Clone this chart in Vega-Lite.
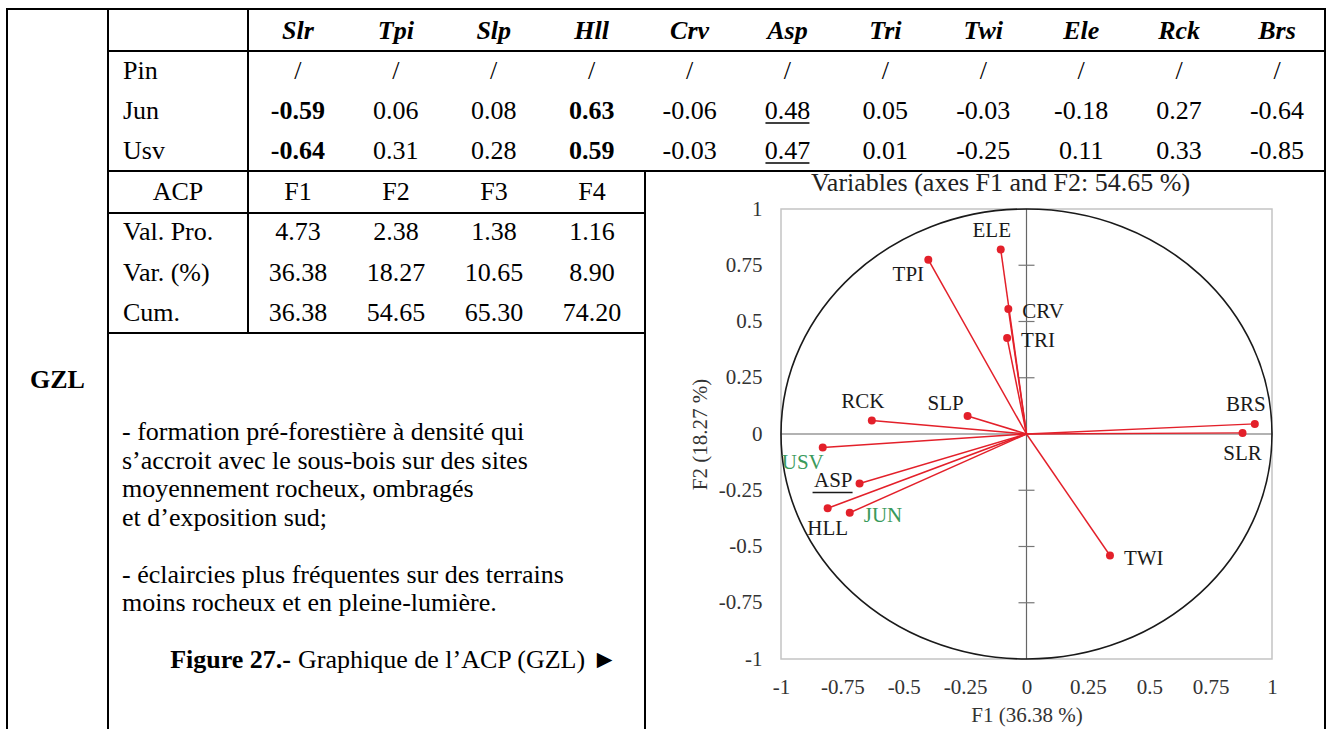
{
  "$schema": "https://vega.github.io/schema/vega-lite/v6.json",
  "width": 1328,
  "height": 729,
  "autosize": {"type": "none"},
  "padding": 0,
  "background": "white",
  "config": {
    "view": {"stroke": null},
    "locale": {"number": {"decimal": ".", "thousands": ",", "grouping": [3], "currency": ["", ""], "minus": "-"}},
    "text": {"font": "Liberation Serif", "color": "#000"}
  },
  "datasets": {
    "borders": [
      {"fromCol": 0, "toCol": 13, "fromRow": 0, "toRow": 0},
      {"fromCol": 0, "toCol": 0, "fromRow": 0, "toRow": 5},
      {"fromCol": 1, "toCol": 1, "fromRow": 0, "toRow": 5},
      {"fromCol": 2, "toCol": 2, "fromRow": 0, "toRow": 4},
      {"fromCol": 13, "toCol": 13, "fromRow": 0, "toRow": 5},
      {"fromCol": 6, "toCol": 6, "fromRow": 2, "toRow": 5},
      {"fromCol": 1, "toCol": 13, "fromRow": 1, "toRow": 1},
      {"fromCol": 1, "toCol": 13, "fromRow": 2, "toRow": 2},
      {"fromCol": 1, "toCol": 6, "fromRow": 3, "toRow": 3},
      {"fromCol": 1, "toCol": 6, "fromRow": 4, "toRow": 4}
    ],
    "vars": [
      {"var": "Slr"}, {"var": "Tpi"}, {"var": "Slp"}, {"var": "Hll"}, {"var": "Crv"}, {"var": "Asp"},
      {"var": "Tri"}, {"var": "Twi"}, {"var": "Ele"}, {"var": "Rck"}, {"var": "Brs"}
    ],
    "species": [{"species": "Pin"}, {"species": "Jun"}, {"species": "Usv"}],
    "corr": [
      {"species": "Pin", "var": "Slr", "r": null, "sig": "none"},
      {"species": "Pin", "var": "Tpi", "r": null, "sig": "none"},
      {"species": "Pin", "var": "Slp", "r": null, "sig": "none"},
      {"species": "Pin", "var": "Hll", "r": null, "sig": "none"},
      {"species": "Pin", "var": "Crv", "r": null, "sig": "none"},
      {"species": "Pin", "var": "Asp", "r": null, "sig": "none"},
      {"species": "Pin", "var": "Tri", "r": null, "sig": "none"},
      {"species": "Pin", "var": "Twi", "r": null, "sig": "none"},
      {"species": "Pin", "var": "Ele", "r": null, "sig": "none"},
      {"species": "Pin", "var": "Rck", "r": null, "sig": "none"},
      {"species": "Pin", "var": "Brs", "r": null, "sig": "none"},
      {"species": "Jun", "var": "Slr", "r": -0.59, "sig": "strong"},
      {"species": "Jun", "var": "Tpi", "r": 0.06, "sig": "none"},
      {"species": "Jun", "var": "Slp", "r": 0.08, "sig": "none"},
      {"species": "Jun", "var": "Hll", "r": 0.63, "sig": "strong"},
      {"species": "Jun", "var": "Crv", "r": -0.06, "sig": "none"},
      {"species": "Jun", "var": "Asp", "r": 0.48, "sig": "moderate"},
      {"species": "Jun", "var": "Tri", "r": 0.05, "sig": "none"},
      {"species": "Jun", "var": "Twi", "r": -0.03, "sig": "none"},
      {"species": "Jun", "var": "Ele", "r": -0.18, "sig": "none"},
      {"species": "Jun", "var": "Rck", "r": 0.27, "sig": "none"},
      {"species": "Jun", "var": "Brs", "r": -0.64, "sig": "none"},
      {"species": "Usv", "var": "Slr", "r": -0.64, "sig": "strong"},
      {"species": "Usv", "var": "Tpi", "r": 0.31, "sig": "none"},
      {"species": "Usv", "var": "Slp", "r": 0.28, "sig": "none"},
      {"species": "Usv", "var": "Hll", "r": 0.59, "sig": "strong"},
      {"species": "Usv", "var": "Crv", "r": -0.03, "sig": "none"},
      {"species": "Usv", "var": "Asp", "r": 0.47, "sig": "moderate"},
      {"species": "Usv", "var": "Tri", "r": 0.01, "sig": "none"},
      {"species": "Usv", "var": "Twi", "r": -0.25, "sig": "none"},
      {"species": "Usv", "var": "Ele", "r": 0.11, "sig": "none"},
      {"species": "Usv", "var": "Rck", "r": 0.33, "sig": "none"},
      {"species": "Usv", "var": "Brs", "r": -0.85, "sig": "none"}
    ],
    "axes": [{"axis": "F1"}, {"axis": "F2"}, {"axis": "F3"}, {"axis": "F4"}],
    "stats": [{"stat": "Val. Pro."}, {"stat": "Var. (%)"}, {"stat": "Cum."}],
    "acp": [
      {"stat": "Val. Pro.", "axis": "F1", "value": 4.73},
      {"stat": "Val. Pro.", "axis": "F2", "value": 2.38},
      {"stat": "Val. Pro.", "axis": "F3", "value": 1.38},
      {"stat": "Val. Pro.", "axis": "F4", "value": 1.16},
      {"stat": "Var. (%)", "axis": "F1", "value": 36.38},
      {"stat": "Var. (%)", "axis": "F2", "value": 18.27},
      {"stat": "Var. (%)", "axis": "F3", "value": 10.65},
      {"stat": "Var. (%)", "axis": "F4", "value": 8.90},
      {"stat": "Cum.", "axis": "F1", "value": 36.38},
      {"stat": "Cum.", "axis": "F2", "value": 54.65},
      {"stat": "Cum.", "axis": "F3", "value": 65.30},
      {"stat": "Cum.", "axis": "F4", "value": 74.20}
    ],
    "notes": [
      {"line": 1, "part": "body", "text": "- formation pré-forestière à densité qui"},
      {"line": 2, "part": "body", "text": "s’accroit avec le sous-bois sur des sites"},
      {"line": 3, "part": "body", "text": "moyennement rocheux, ombragés"},
      {"line": 4, "part": "body", "text": "et d’exposition sud;"},
      {"line": 6, "part": "body", "text": "- éclaircies plus fréquentes sur des terrains"},
      {"line": 7, "part": "body", "text": "moins rocheux et en pleine-lumière."},
      {"line": 9, "part": "label", "text": "Figure 27.-"},
      {"line": 9, "part": "caption", "text": "Graphique de l’ACP (GZL) ►"}
    ],
    "pca": [
      {"name": "SLR", "f1": 0.88, "f2": 0.005, "kind": "variable", "place": "below", "underlined": false},
      {"name": "BRS", "f1": 0.93, "f2": 0.045, "kind": "variable", "place": "above", "underlined": false},
      {"name": "TWI", "f1": 0.34, "f2": -0.54, "kind": "variable", "place": "right", "underlined": false},
      {"name": "ELE", "f1": -0.105, "f2": 0.82, "kind": "variable", "place": "above", "underlined": false},
      {"name": "TPI", "f1": -0.40, "f2": 0.775, "kind": "variable", "place": "below-left", "underlined": false},
      {"name": "CRV", "f1": -0.074, "f2": 0.556, "kind": "variable", "place": "right", "underlined": false},
      {"name": "TRI", "f1": -0.079, "f2": 0.427, "kind": "variable", "place": "right", "underlined": false},
      {"name": "RCK", "f1": -0.63, "f2": 0.06, "kind": "variable", "place": "above", "underlined": false},
      {"name": "SLP", "f1": -0.24, "f2": 0.08, "kind": "variable", "place": "above-left", "underlined": false},
      {"name": "ASP", "f1": -0.68, "f2": -0.22, "kind": "variable", "place": "left", "underlined": true},
      {"name": "HLL", "f1": -0.81, "f2": -0.33, "kind": "variable", "place": "below", "underlined": false},
      {"name": "USV", "f1": -0.83, "f2": -0.06, "kind": "species", "place": "below-left", "underlined": false},
      {"name": "JUN", "f1": -0.72, "f2": -0.35, "kind": "species", "place": "right", "underlined": false}
    ],
    "ticks": [{"v": -0.75}, {"v": -0.5}, {"v": -0.25}, {"v": 0.25}, {"v": 0.5}, {"v": 0.75}]
  },
  "resolve": {"scale": {"x": "independent", "y": "independent", "color": "independent"}, "axis": {"x": "independent", "y": "independent"}},
  "layer": [
    {
      "data": {"name": "borders"},
      "mark": {"type": "rule", "color": "#000", "strokeWidth": 2, "strokeCap": "square"},
      "encoding": {
        "x": {"field": "fromCol", "type": "quantitative", "scale": {"domain": [0, 1, 2, 6, 13], "range": [7, 108, 248, 645, 1325], "nice": false, "zero": false}, "axis": null},
        "x2": {"field": "toCol"},
        "y": {"field": "fromRow", "type": "quantitative", "scale": {"domain": [0, 1, 2, 3, 4, 5], "range": [9, 51, 171, 213, 333, 729], "nice": false, "zero": false}, "axis": null},
        "y2": {"field": "toRow"}
      }
    },
    {
      "data": {"values": [{"label": "GZL"}]},
      "mark": {"type": "text", "font": "Liberation Serif", "fontSize": 26, "fontWeight": "bold", "align": "center", "baseline": "middle"},
      "encoding": {
        "x": {"datum": 0.5, "type": "quantitative", "scale": {"domain": [0, 1], "range": [7, 108], "nice": false, "zero": false}, "axis": null},
        "y": {"datum": 0.5, "type": "quantitative", "scale": {"domain": [0, 1], "range": [9, 751], "nice": false, "zero": false}, "axis": null},
        "text": {"field": "label"}
      }
    },
    {
      "layer": [
        {
          "data": {"name": "vars"},
          "mark": {"type": "text", "font": "Liberation Serif", "fontSize": 26, "fontWeight": "bold", "fontStyle": "italic", "align": "center", "baseline": "middle"},
          "encoding": {
            "x": {"field": "var", "type": "nominal", "scale": {"type": "point", "domain": ["Species", "Slr", "Tpi", "Slp", "Hll", "Crv", "Asp", "Tri", "Twi", "Ele", "Rck", "Brs"], "range": [200, 1277], "padding": 0}, "axis": null},
            "y": {"datum": "Variable", "type": "nominal", "scale": {"type": "point", "domain": ["Variable", "Pin", "Jun", "Usv"], "range": [31, 151], "padding": 0}, "axis": null},
            "text": {"field": "var"}
          }
        },
        {
          "data": {"name": "corr"},
          "transform": [{"filter": "datum.sig !== 'strong'"}],
          "mark": {"type": "text", "font": "Liberation Serif", "fontSize": 26, "align": "center", "baseline": "middle"},
          "encoding": {
            "x": {"field": "var", "type": "nominal", "scale": {"type": "point", "domain": ["Species", "Slr", "Tpi", "Slp", "Hll", "Crv", "Asp", "Tri", "Twi", "Ele", "Rck", "Brs"], "range": [200, 1277], "padding": 0}, "axis": null},
            "y": {"field": "species", "type": "nominal", "scale": {"type": "point", "domain": ["Variable", "Pin", "Jun", "Usv"], "range": [31, 151], "padding": 0}, "axis": null},
            "text": {"condition": {"test": "datum.r === null", "value": "/"}, "field": "r", "type": "quantitative", "format": ".2f"}
          }
        },
        {
          "data": {"name": "corr"},
          "transform": [{"filter": "datum.sig === 'strong'"}],
          "mark": {"type": "text", "font": "Liberation Serif", "fontSize": 26, "fontWeight": "bold", "align": "center", "baseline": "middle"},
          "encoding": {
            "x": {"field": "var", "type": "nominal", "scale": {"type": "point", "domain": ["Species", "Slr", "Tpi", "Slp", "Hll", "Crv", "Asp", "Tri", "Twi", "Ele", "Rck", "Brs"], "range": [200, 1277], "padding": 0}, "axis": null},
            "y": {"field": "species", "type": "nominal", "scale": {"type": "point", "domain": ["Variable", "Pin", "Jun", "Usv"], "range": [31, 151], "padding": 0}, "axis": null},
            "text": {"field": "r", "type": "quantitative", "format": ".2f"}
          }
        },
        {
          "data": {"name": "corr"},
          "transform": [{"filter": "datum.sig === 'moderate'"}],
          "mark": {"type": "tick", "orient": "horizontal", "size": 44, "thickness": 1.5, "color": "#000", "yOffset": 12, "opacity": 1},
          "encoding": {
            "x": {"field": "var", "type": "nominal", "scale": {"type": "point", "domain": ["Species", "Slr", "Tpi", "Slp", "Hll", "Crv", "Asp", "Tri", "Twi", "Ele", "Rck", "Brs"], "range": [200, 1277], "padding": 0}, "axis": null},
            "y": {"field": "species", "type": "nominal", "scale": {"type": "point", "domain": ["Variable", "Pin", "Jun", "Usv"], "range": [31, 151], "padding": 0}, "axis": null}
          }
        },
        {
          "data": {"name": "species"},
          "mark": {"type": "text", "font": "Liberation Serif", "fontSize": 26, "align": "left", "baseline": "middle", "dx": -77},
          "encoding": {
            "x": {"datum": "Species", "type": "nominal", "scale": {"type": "point", "domain": ["Species", "Slr", "Tpi", "Slp", "Hll", "Crv", "Asp", "Tri", "Twi", "Ele", "Rck", "Brs"], "range": [200, 1277], "padding": 0}, "axis": null},
            "y": {"field": "species", "type": "nominal", "scale": {"type": "point", "domain": ["Variable", "Pin", "Jun", "Usv"], "range": [31, 151], "padding": 0}, "axis": null},
            "text": {"field": "species"}
          }
        }
      ]
    },
    {
      "layer": [
        {
          "data": {"values": [{"label": "ACP"}]},
          "mark": {"type": "text", "font": "Liberation Serif", "fontSize": 26, "align": "center", "baseline": "middle", "dx": -22},
          "encoding": {
            "x": {"datum": "Stat", "type": "nominal", "scale": {"type": "point", "domain": ["Stat", "F1", "F2", "F3", "F4"], "range": [200, 592], "padding": 0}, "axis": null},
            "y": {"datum": "ACP", "type": "nominal", "scale": {"type": "point", "domain": ["ACP", "Val. Pro.", "Var. (%)", "Cum."], "range": [192, 313], "padding": 0}, "axis": null},
            "text": {"field": "label"}
          }
        },
        {
          "data": {"name": "axes"},
          "mark": {"type": "text", "font": "Liberation Serif", "fontSize": 26, "align": "center", "baseline": "middle"},
          "encoding": {
            "x": {"field": "axis", "type": "nominal", "scale": {"type": "point", "domain": ["Stat", "F1", "F2", "F3", "F4"], "range": [200, 592], "padding": 0}, "axis": null},
            "y": {"datum": "ACP", "type": "nominal", "scale": {"type": "point", "domain": ["ACP", "Val. Pro.", "Var. (%)", "Cum."], "range": [192, 313], "padding": 0}, "axis": null},
            "text": {"field": "axis"}
          }
        },
        {
          "data": {"name": "stats"},
          "mark": {"type": "text", "font": "Liberation Serif", "fontSize": 26, "align": "left", "baseline": "middle", "dx": -77},
          "encoding": {
            "x": {"datum": "Stat", "type": "nominal", "scale": {"type": "point", "domain": ["Stat", "F1", "F2", "F3", "F4"], "range": [200, 592], "padding": 0}, "axis": null},
            "y": {"field": "stat", "type": "nominal", "scale": {"type": "point", "domain": ["ACP", "Val. Pro.", "Var. (%)", "Cum."], "range": [192, 313], "padding": 0}, "axis": null},
            "text": {"field": "stat"}
          }
        },
        {
          "data": {"name": "acp"},
          "mark": {"type": "text", "font": "Liberation Serif", "fontSize": 26, "align": "center", "baseline": "middle"},
          "encoding": {
            "x": {"field": "axis", "type": "nominal", "scale": {"type": "point", "domain": ["Stat", "F1", "F2", "F3", "F4"], "range": [200, 592], "padding": 0}, "axis": null},
            "y": {"field": "stat", "type": "nominal", "scale": {"type": "point", "domain": ["ACP", "Val. Pro.", "Var. (%)", "Cum."], "range": [192, 313], "padding": 0}, "axis": null},
            "text": {"field": "value", "type": "quantitative", "format": ".2f"}
          }
        }
      ]
    },
    {
      "layer": [
        {
          "data": {"name": "notes"},
          "transform": [{"filter": "datum.part === 'body'"}],
          "mark": {"type": "text", "font": "Liberation Serif", "fontSize": 26, "align": "left", "baseline": "middle"},
          "encoding": {
            "x": {"datum": "body", "type": "nominal", "scale": {"type": "point", "domain": ["body", "caption"], "range": [122, 291], "padding": 0}, "axis": null},
            "y": {"field": "line", "type": "ordinal", "scale": {"type": "point", "domain": [1, 2, 3, 4, 5, 6, 7, 8, 9], "range": [432, 660], "padding": 0}, "axis": null},
            "text": {"field": "text"}
          }
        },
        {
          "data": {"name": "notes"},
          "transform": [{"filter": "datum.part === 'label'"}],
          "mark": {"type": "text", "font": "Liberation Serif", "fontSize": 26, "fontWeight": "bold", "align": "right", "baseline": "middle"},
          "encoding": {
            "x": {"datum": "caption", "type": "nominal", "scale": {"type": "point", "domain": ["body", "caption"], "range": [122, 291], "padding": 0}, "axis": null},
            "y": {"field": "line", "type": "ordinal", "scale": {"type": "point", "domain": [1, 2, 3, 4, 5, 6, 7, 8, 9], "range": [432, 660], "padding": 0}, "axis": null},
            "text": {"field": "text"}
          }
        },
        {
          "data": {"name": "notes"},
          "transform": [{"filter": "datum.part === 'caption'"}],
          "mark": {"type": "text", "font": "Liberation Serif", "fontSize": 26, "align": "left", "baseline": "middle", "dx": 7},
          "encoding": {
            "x": {"datum": "caption", "type": "nominal", "scale": {"type": "point", "domain": ["body", "caption"], "range": [122, 291], "padding": 0}, "axis": null},
            "y": {"field": "line", "type": "ordinal", "scale": {"type": "point", "domain": [1, 2, 3, 4, 5, 6, 7, 8, 9], "range": [432, 660], "padding": 0}, "axis": null},
            "text": {"field": "text"}
          }
        }
      ]
    },
    {
      "layer": [
        {
          "data": {"values": [{}]},
          "mark": {"type": "rect", "filled": false, "stroke": "#c4c4c4", "strokeWidth": 1.5},
          "encoding": {
            "x": {"datum": -1, "type": "quantitative", "title": "F1 (36.38 %)", "scale": {"domain": [-1, 1], "range": [781, 1272], "nice": false, "zero": false},
              "axis": {"orient": "bottom", "offset": -70, "values": [-1, -0.75, -0.5, -0.25, 0, 0.25, 0.5, 0.75, 1], "labelExpr": "datum.value < 0 ? '-' + format(-datum.value, '.4~f') : format(datum.value, '.4~f')", "ticks": false, "tickSize": 0, "domain": false, "grid": false, "labelPadding": 17, "labelFont": "Liberation Serif", "labelFontSize": 21, "labelColor": "#333", "labelFlush": false, "labelOverlap": false, "labelBound": false, "titleFont": "Liberation Serif", "titleFontSize": 21, "titleFontWeight": "normal", "titleColor": "#333", "titlePadding": 7}},
            "x2": {"datum": 1},
            "y": {"datum": -1, "type": "quantitative", "title": "F2 (18.27 %)", "scale": {"domain": [-1, 1], "range": [659, 209], "nice": false, "zero": false},
              "axis": {"orient": "left", "offset": -781, "values": [-1, -0.75, -0.5, -0.25, 0, 0.25, 0.5, 0.75, 1], "labelExpr": "datum.value < 0 ? '-' + format(-datum.value, '.4~f') : format(datum.value, '.4~f')", "ticks": false, "tickSize": 0, "domain": false, "grid": false, "labelPadding": 19, "labelFont": "Liberation Serif", "labelFontSize": 21, "labelColor": "#333", "labelFlush": false, "labelOverlap": false, "labelBound": false, "titleFont": "Liberation Serif", "titleFontSize": 21, "titleFontWeight": "normal", "titleColor": "#333", "titlePadding": 8}},
            "y2": {"datum": 1}
          }
        },
        {
          "data": {"values": [{}]},
          "mark": {"type": "rule", "color": "#666", "strokeWidth": 1.2},
          "encoding": {
            "x": {"datum": 0, "type": "quantitative", "title": "F1 (36.38 %)", "scale": {"domain": [-1, 1], "range": [781, 1272], "nice": false, "zero": false}},
            "y": {"datum": -1, "type": "quantitative", "title": "F2 (18.27 %)", "scale": {"domain": [-1, 1], "range": [659, 209], "nice": false, "zero": false}},
            "y2": {"datum": 1}
          }
        },
        {
          "data": {"values": [{}]},
          "mark": {"type": "rule", "color": "#666", "strokeWidth": 1.2},
          "encoding": {
            "x": {"datum": -1, "type": "quantitative", "title": "F1 (36.38 %)", "scale": {"domain": [-1, 1], "range": [781, 1272], "nice": false, "zero": false}},
            "x2": {"datum": 1},
            "y": {"datum": 0, "type": "quantitative", "title": "F2 (18.27 %)", "scale": {"domain": [-1, 1], "range": [659, 209], "nice": false, "zero": false}}
          }
        },
        {
          "data": {"name": "ticks"},
          "mark": {"type": "tick", "orient": "horizontal", "size": 16, "thickness": 1.2, "color": "#777", "opacity": 1},
          "encoding": {
            "x": {"datum": 0, "type": "quantitative", "title": "F1 (36.38 %)", "scale": {"domain": [-1, 1], "range": [781, 1272], "nice": false, "zero": false}},
            "y": {"field": "v", "type": "quantitative", "title": "F2 (18.27 %)", "scale": {"domain": [-1, 1], "range": [659, 209], "nice": false, "zero": false}}
          }
        },
        {
          "data": {"values": [{}]},
          "mark": {"type": "point", "shape": "M1,0C1,0.5062,0.5523,0.9165,0,0.9165C-0.5523,0.9165,-1,0.5062,-1,0C-1,-0.5062,-0.5523,-0.9165,0,-0.9165C0.5523,-0.9165,1,-0.5062,1,0Z", "size": 241081, "filled": false, "color": "#1a1a1a", "strokeWidth": 1.6, "opacity": 1},
          "encoding": {
            "x": {"datum": 0, "type": "quantitative", "title": "F1 (36.38 %)", "scale": {"domain": [-1, 1], "range": [781, 1272], "nice": false, "zero": false}},
            "y": {"datum": 0, "type": "quantitative", "title": "F2 (18.27 %)", "scale": {"domain": [-1, 1], "range": [659, 209], "nice": false, "zero": false}}
          }
        },
        {
          "data": {"name": "pca"},
          "mark": {"type": "rule", "color": "#e3202a", "strokeWidth": 1.5},
          "encoding": {
            "x": {"field": "f1", "type": "quantitative", "title": "F1 (36.38 %)", "scale": {"domain": [-1, 1], "range": [781, 1272], "nice": false, "zero": false}},
            "y": {"field": "f2", "type": "quantitative", "title": "F2 (18.27 %)", "scale": {"domain": [-1, 1], "range": [659, 209], "nice": false, "zero": false}},
            "x2": {"datum": 0},
            "y2": {"datum": 0}
          }
        },
        {
          "data": {"name": "pca"},
          "mark": {"type": "point", "filled": true, "color": "#e3202a", "size": 64, "opacity": 1},
          "encoding": {
            "x": {"field": "f1", "type": "quantitative", "title": "F1 (36.38 %)", "scale": {"domain": [-1, 1], "range": [781, 1272], "nice": false, "zero": false}},
            "y": {"field": "f2", "type": "quantitative", "title": "F2 (18.27 %)", "scale": {"domain": [-1, 1], "range": [659, 209], "nice": false, "zero": false}}
          }
        },
        {
          "data": {"name": "pca"},
          "transform": [{"filter": "datum.place === 'above'"}],
          "mark": {"type": "text", "font": "Liberation Serif", "fontSize": 21, "align": "center", "baseline": "middle", "dx": -9, "dy": -19},
          "encoding": {
            "x": {"field": "f1", "type": "quantitative", "title": "F1 (36.38 %)", "scale": {"domain": [-1, 1], "range": [781, 1272], "nice": false, "zero": false}},
            "y": {"field": "f2", "type": "quantitative", "title": "F2 (18.27 %)", "scale": {"domain": [-1, 1], "range": [659, 209], "nice": false, "zero": false}},
            "text": {"field": "name"},
            "color": {"field": "kind", "type": "nominal", "scale": {"domain": ["variable", "species"], "range": ["#1a1a1a", "#3a9a5b"]}, "legend": null}
          }
        },
        {
          "data": {"name": "pca"},
          "transform": [{"filter": "datum.place === 'above-left'"}],
          "mark": {"type": "text", "font": "Liberation Serif", "fontSize": 21, "align": "center", "baseline": "middle", "dx": -22, "dy": -12},
          "encoding": {
            "x": {"field": "f1", "type": "quantitative", "title": "F1 (36.38 %)", "scale": {"domain": [-1, 1], "range": [781, 1272], "nice": false, "zero": false}},
            "y": {"field": "f2", "type": "quantitative", "title": "F2 (18.27 %)", "scale": {"domain": [-1, 1], "range": [659, 209], "nice": false, "zero": false}},
            "text": {"field": "name"},
            "color": {"field": "kind", "type": "nominal", "scale": {"domain": ["variable", "species"], "range": ["#1a1a1a", "#3a9a5b"]}, "legend": null}
          }
        },
        {
          "data": {"name": "pca"},
          "transform": [{"filter": "datum.place === 'below'"}],
          "mark": {"type": "text", "font": "Liberation Serif", "fontSize": 21, "align": "center", "baseline": "middle", "dx": 0, "dy": 21},
          "encoding": {
            "x": {"field": "f1", "type": "quantitative", "title": "F1 (36.38 %)", "scale": {"domain": [-1, 1], "range": [781, 1272], "nice": false, "zero": false}},
            "y": {"field": "f2", "type": "quantitative", "title": "F2 (18.27 %)", "scale": {"domain": [-1, 1], "range": [659, 209], "nice": false, "zero": false}},
            "text": {"field": "name"},
            "color": {"field": "kind", "type": "nominal", "scale": {"domain": ["variable", "species"], "range": ["#1a1a1a", "#3a9a5b"]}, "legend": null}
          }
        },
        {
          "data": {"name": "pca"},
          "transform": [{"filter": "datum.place === 'below-left'"}],
          "mark": {"type": "text", "font": "Liberation Serif", "fontSize": 21, "align": "center", "baseline": "middle", "dx": -20, "dy": 15},
          "encoding": {
            "x": {"field": "f1", "type": "quantitative", "title": "F1 (36.38 %)", "scale": {"domain": [-1, 1], "range": [781, 1272], "nice": false, "zero": false}},
            "y": {"field": "f2", "type": "quantitative", "title": "F2 (18.27 %)", "scale": {"domain": [-1, 1], "range": [659, 209], "nice": false, "zero": false}},
            "text": {"field": "name"},
            "color": {"field": "kind", "type": "nominal", "scale": {"domain": ["variable", "species"], "range": ["#1a1a1a", "#3a9a5b"]}, "legend": null}
          }
        },
        {
          "data": {"name": "pca"},
          "transform": [{"filter": "datum.place === 'right'"}],
          "mark": {"type": "text", "font": "Liberation Serif", "fontSize": 21, "align": "left", "baseline": "middle", "dx": 14, "dy": 3},
          "encoding": {
            "x": {"field": "f1", "type": "quantitative", "title": "F1 (36.38 %)", "scale": {"domain": [-1, 1], "range": [781, 1272], "nice": false, "zero": false}},
            "y": {"field": "f2", "type": "quantitative", "title": "F2 (18.27 %)", "scale": {"domain": [-1, 1], "range": [659, 209], "nice": false, "zero": false}},
            "text": {"field": "name"},
            "color": {"field": "kind", "type": "nominal", "scale": {"domain": ["variable", "species"], "range": ["#1a1a1a", "#3a9a5b"]}, "legend": null}
          }
        },
        {
          "data": {"name": "pca"},
          "transform": [{"filter": "datum.place === 'left'"}],
          "mark": {"type": "text", "font": "Liberation Serif", "fontSize": 21, "align": "right", "baseline": "middle", "dx": -7, "dy": -3},
          "encoding": {
            "x": {"field": "f1", "type": "quantitative", "title": "F1 (36.38 %)", "scale": {"domain": [-1, 1], "range": [781, 1272], "nice": false, "zero": false}},
            "y": {"field": "f2", "type": "quantitative", "title": "F2 (18.27 %)", "scale": {"domain": [-1, 1], "range": [659, 209], "nice": false, "zero": false}},
            "text": {"field": "name"},
            "color": {"field": "kind", "type": "nominal", "scale": {"domain": ["variable", "species"], "range": ["#1a1a1a", "#3a9a5b"]}, "legend": null}
          }
        },
        {
          "data": {"name": "pca"},
          "transform": [{"filter": "datum.underlined"}],
          "mark": {"type": "tick", "orient": "horizontal", "size": 40, "thickness": 1.5, "color": "#1a1a1a", "xOffset": -27, "yOffset": 9, "opacity": 1},
          "encoding": {
            "x": {"field": "f1", "type": "quantitative", "title": "F1 (36.38 %)", "scale": {"domain": [-1, 1], "range": [781, 1272], "nice": false, "zero": false}},
            "y": {"field": "f2", "type": "quantitative", "title": "F2 (18.27 %)", "scale": {"domain": [-1, 1], "range": [659, 209], "nice": false, "zero": false}}
          }
        },
        {
          "data": {"values": [{"title": "Variables (axes F1 and F2: 54.65 %)"}]},
          "mark": {"type": "text", "font": "Liberation Serif", "fontSize": 26, "align": "center", "baseline": "middle", "dx": -26, "dy": -26, "color": "#222"},
          "encoding": {
            "x": {"datum": 0, "type": "quantitative", "title": "F1 (36.38 %)", "scale": {"domain": [-1, 1], "range": [781, 1272], "nice": false, "zero": false}},
            "y": {"datum": 1, "type": "quantitative", "title": "F2 (18.27 %)", "scale": {"domain": [-1, 1], "range": [659, 209], "nice": false, "zero": false}},
            "text": {"field": "title"}
          }
        }
      ]
    }
  ]
}
